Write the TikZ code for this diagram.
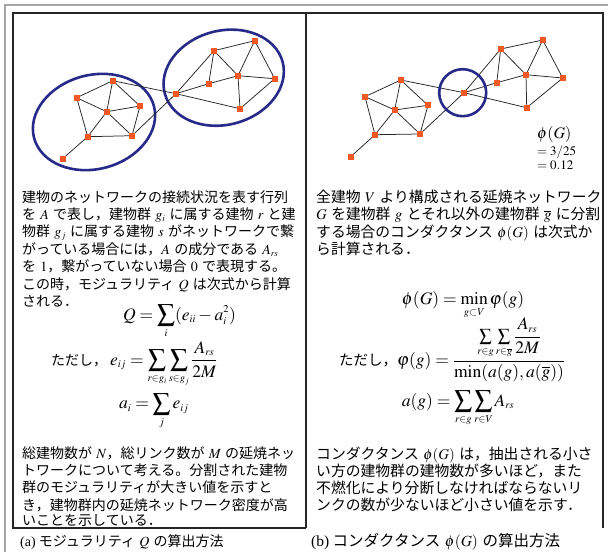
\documentclass[tikz,border=0pt]{standalone}
\usepackage{mathptmx}
\usepackage[no-math]{fontspec}
\setmainfont{Liberation Serif}
\newfontfamily\jp{Noto Sans CJK JP}
\DeclareMathSizes{13}{13}{8.5}{6.5}
\DeclareMathSizes{14}{14}{9}{7}
\DeclareMathSizes{14.8}{14.8}{9.5}{7}
\DeclareMathSizes{15.5}{15.5}{10}{7.5}
\DeclareMathSizes{16}{16}{10}{7.5}
\DeclareMathSizes{17.5}{17.5}{10.5}{8}
\definecolor{nodeor}{RGB}{242,88,36}
\definecolor{ringblue}{RGB}{40,42,138}
\newcommand\m[1]{\hspace{.3em}$#1$\hspace{.3em}}
\newcommand\mL[1]{\hspace{.3em}$#1$}
\newcommand\mR[1]{$#1$\hspace{.3em}}
\begin{document}
\begin{tikzpicture}[x=1pt,y=-1pt,
  bld/.style={rectangle, fill=nodeor, minimum size=6pt, inner sep=0pt},
  lnk/.style={draw=black!85, line width=0.75pt},
  ring/.style={draw=ringblue, line width=2.6pt},
  boxline/.style={draw=black!85, line width=1.3pt},
  outer/.style={draw=gray!70, line width=2pt},
  txtL/.style={anchor=base west, inner sep=0pt, font=\jp\fontsize{14}{17}\selectfont},
  txtR/.style={anchor=base west, inner sep=0pt, font=\jp\fontsize{14.8}{17}\selectfont},
  eqn/.style={anchor=base west, inner sep=0pt, font=\fontsize{17.5}{20}\selectfont},
  ann/.style={anchor=base west, inner sep=0pt, font=\fontsize{13}{15}\selectfont},
]
\useasboundingbox (0,0) rectangle (608,552);
\fill[white] (0,0) rectangle (608,552);

% frames
\draw[outer] (5.3,552) -- (5.3,5.3) -- (608,5.3);
\draw[boxline] (306,528) -- (13,528) -- (13,13) -- (603,13) -- (603,528);
\draw[boxline] (306,13) -- (306,528);

% ---------- graphs ----------
\draw[ring, rotate around={15:(94,122)}] (94,122) ellipse [x radius=62pt, y radius=47pt];
\draw[ring, rotate around={15:(223.7,77.7)}] (223.7,77.7) ellipse [x radius=61pt, y radius=47pt];
\foreach \n/\x/\y in {A/112.7/80.7, B/76.7/97.7, C/106.7/111.7, D/140/106, E/87.7/136.7, F/132/135.7, G/62.7/158.7, H/176/93.7, I/208.7/83.7, J/214/50.7, K/254.7/40.7, L/238/75.7, M/274.7/78.7, N/240/108.7}
  \coordinate (L\n) at (\x,\y);
\foreach \n/\x/\y in {A/400.7/80, B/365/96.7, C/394.7/110, D/428/105.3, E/375/134.7, F/420/134, G/350.7/156.7, H/464/92.7, I/496.7/82.7, J/500.7/49, K/542.7/40, L/526/74.7, M/562.7/78, N/526.7/107.7}
  \coordinate (R\n) at (\x,\y);
\foreach \a/\b in {A/B,A/C,A/D,A/H,B/C,B/E,C/D,C/E,C/F,D/F,E/F,E/G,F/H,H/I,H/J,H/N,I/J,I/L,J/K,J/L,K/L,K/M,L/M,L/N,M/N}{
  \draw[lnk] (L\a) -- (L\b);
  \draw[lnk] (R\a) -- (R\b);
}
\foreach \n in {A,B,C,D,E,F,G,H,I,J,K,L,M,N}{
  \node[bld] (nL\n) at (L\n) {};
  \node[bld] (nR\n) at (R\n) {};
}
\draw[ring] (462.7,92.7) circle [radius=23.5pt];
\node[anchor=base west, inner sep=0pt, font=\fontsize{16}{18}\selectfont] (phiG) at (537,138) {$\phi(G)$};
\node[ann] (v1) at (537,155.5) {$=3/25$};
\node[ann] (v2) at (537,169.5) {$=0.12$};

% ---------- left text ----------
\node[txtL] (l1) at (22,202) {建物のネットワークの接続状況を表す行列};
\node[txtL] (l2) at (22,219.4) {を\m{A}で表し，建物群\m{g_i}に属する建物\m{r}と建};
\node[txtL] (l3) at (22,236.8) {物群\m{g_j}に属する建物\m{s}がネットワークで繋};
\node[txtL] (l4) at (22,254.2) {がっている場合には，\mR{A}の成分である\mL{A_{rs}}};
\node[txtL] (l5) at (22,271.6) {を\mL{1}，繋がっていない場合\m{0}で表現する。};
\node[txtL] (l6) at (22,289) {この時，モジュラリティ\m{Q}は次式から計算};
\node[txtL] (l7) at (22,306.4) {される．};

\node[eqn] (eqQ) at (123,320) {$\displaystyle Q=\sum_{i}(e_{ii}-a_i^{2})$};
\node[eqn] (eqE) at (51,365) {{\jp\fontsize{14}{17}\selectfont ただし，}\hspace{3pt}$\displaystyle e_{ij}=\sum_{r\in g_i}\sum_{s\in g_j}\frac{A_{rs}}{2M}$};
\node[eqn] (eqA) at (119,408.5) {$\displaystyle a_i=\sum_{j}e_{ij}$};

\node[txtL] (b1) at (22,458.4) {総建物数が\mL{N}，総リンク数が\m{M}の延焼ネッ};
\node[txtL] (b2) at (22,475.8) {トワークについて考える。分割された建物};
\node[txtL] (b3) at (22,492.8) {群のモジュラリティが大きい値を示すと};
\node[txtL] (b4) at (22,510.1) {き，建物群内の延焼ネットワーク密度が高};
\node[txtL] (b5) at (22,525.6) {いことを示している．};
\node[txtL] (capA) at (20,546) {{\rmfamily (a)} モジュラリティ\m{Q}の算出方法};

% ---------- right text ----------
\node[txtR] (r1) at (316,202.4) {全建物\m{V}より構成される延焼ネットワーク};
\node[txtR] (r2) at (316,219.7) {\mR{G}を建物群\m{g}とそれ以外の建物群\m{\overline{g}}に分割};
\node[txtR] (r3) at (316,237.2) {する場合のコンダクタンス\m{\phi(G)}は次式か};
\node[txtR] (r4) at (316,254.6) {ら計算される．};

\node[eqn] (eqPhi) at (401.7,304.5) {$\displaystyle \phi(G)=\min_{g\subset V}\varphi(g)$};
\node[eqn] (eqVar) at (339,365.7) {{\jp\fontsize{14.5}{17}\selectfont ただし，}$\displaystyle\varphi(g)=\frac{\sum\limits_{r\in g}\sum\limits_{r\in\overline{g}}{\displaystyle\frac{A_{rs}}{2M}}}{\min(a(g),a(\overline{g}))}$};
\node[eqn] (eqAg) at (401.7,406) {$\displaystyle a(g)=\sum_{r\in g}\sum_{r\in V}A_{rs}$};

\node[txtR] (s1) at (316,459) {コンダクタンス\m{\phi(G)}は，抽出される小さ};
\node[txtR] (s2) at (316,476.4) {い方の建物群の建物数が多いほど，また};
\node[txtR] (s3) at (316,493.4) {不燃化により分断しなければならないリ};
\node[txtR] (s4) at (316,510.7) {ンクの数が少ないほど小さい値を示す．};
\node[anchor=base west, inner sep=0pt, font=\jp\fontsize{15.5}{18}\selectfont] (capB) at (311,546) {{\rmfamily (b)} コンダクタンス\m{\phi(G)}の算出方法};
\end{tikzpicture}
\end{document}
